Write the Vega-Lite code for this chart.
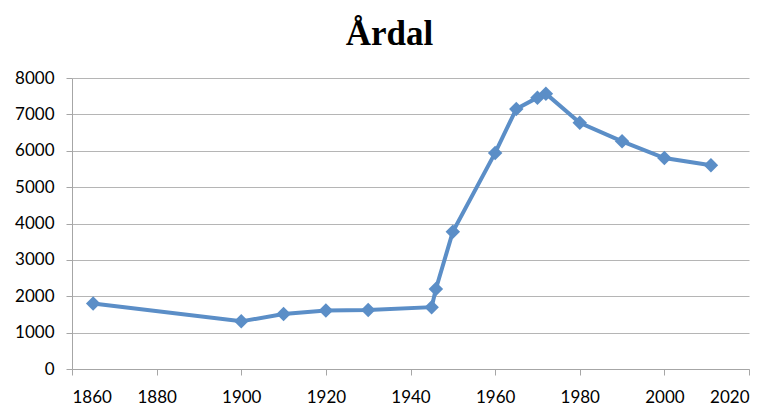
{
  "$schema": "https://vega.github.io/schema/vega-lite/v6.json",
  "width": 677,
  "height": 291,
  "autosize": {"type": "none"},
  "padding": {"left": 72, "top": 78, "right": 22, "bottom": 40},
  "background": "white",
  "title": {
    "text": "Årdal",
    "font": "Liberation Serif",
    "fontSize": 35,
    "fontWeight": "bold",
    "color": "#000000",
    "anchor": "middle",
    "frame": "group",
    "dx": -21,
    "dy": 11,
    "offset": 0,
    "baseline": "alphabetic"
  },
  "data": {
    "values": [
      {"year": 1865, "population": 1800},
      {"year": 1900, "population": 1310},
      {"year": 1910, "population": 1510},
      {"year": 1920, "population": 1610},
      {"year": 1930, "population": 1620},
      {"year": 1945, "population": 1700},
      {"year": 1946, "population": 2200},
      {"year": 1950, "population": 3770},
      {"year": 1960, "population": 5940},
      {"year": 1965, "population": 7150},
      {"year": 1970, "population": 7460},
      {"year": 1972, "population": 7570},
      {"year": 1980, "population": 6770},
      {"year": 1990, "population": 6260},
      {"year": 2000, "population": 5800},
      {"year": 2011, "population": 5600}
    ]
  },
  "mark": {
    "type": "line",
    "color": "#5b8ec7",
    "strokeWidth": 4,
    "point": {"shape": "diamond", "size": 210, "color": "#5b8ec7", "filled": true, "opacity": 1}
  },
  "encoding": {
    "x": {
      "field": "year",
      "type": "quantitative",
      "scale": {"domain": [1860, 2020], "nice": false, "zero": false},
      "axis": {
        "title": null,
        "values": [1860, 1880, 1900, 1920, 1940, 1960, 1980, 2000, 2020],
        "format": "d",
        "grid": false,
        "domainColor": "#a6a6a6",
        "tickColor": "#a6a6a6",
        "tickSize": 6,
        "labelFont": "Lato",
        "labelFontSize": 17,
        "labelColor": "#000000",
        "labelPadding": 14
      }
    },
    "y": {
      "field": "population",
      "type": "quantitative",
      "scale": {"domain": [0, 8000], "nice": false},
      "axis": {
        "title": null,
        "values": [0, 1000, 2000, 3000, 4000, 5000, 6000, 7000, 8000],
        "format": "d",
        "grid": true,
        "gridColor": "#b5b5b5",
        "gridWidth": 1.2,
        "domainColor": "#a6a6a6",
        "tickColor": "#a6a6a6",
        "tickSize": 6,
        "labelFont": "Lato",
        "labelFontSize": 17,
        "labelColor": "#000000",
        "labelPadding": 12
      }
    }
  },
  "config": {"view": {"stroke": null}}
}
